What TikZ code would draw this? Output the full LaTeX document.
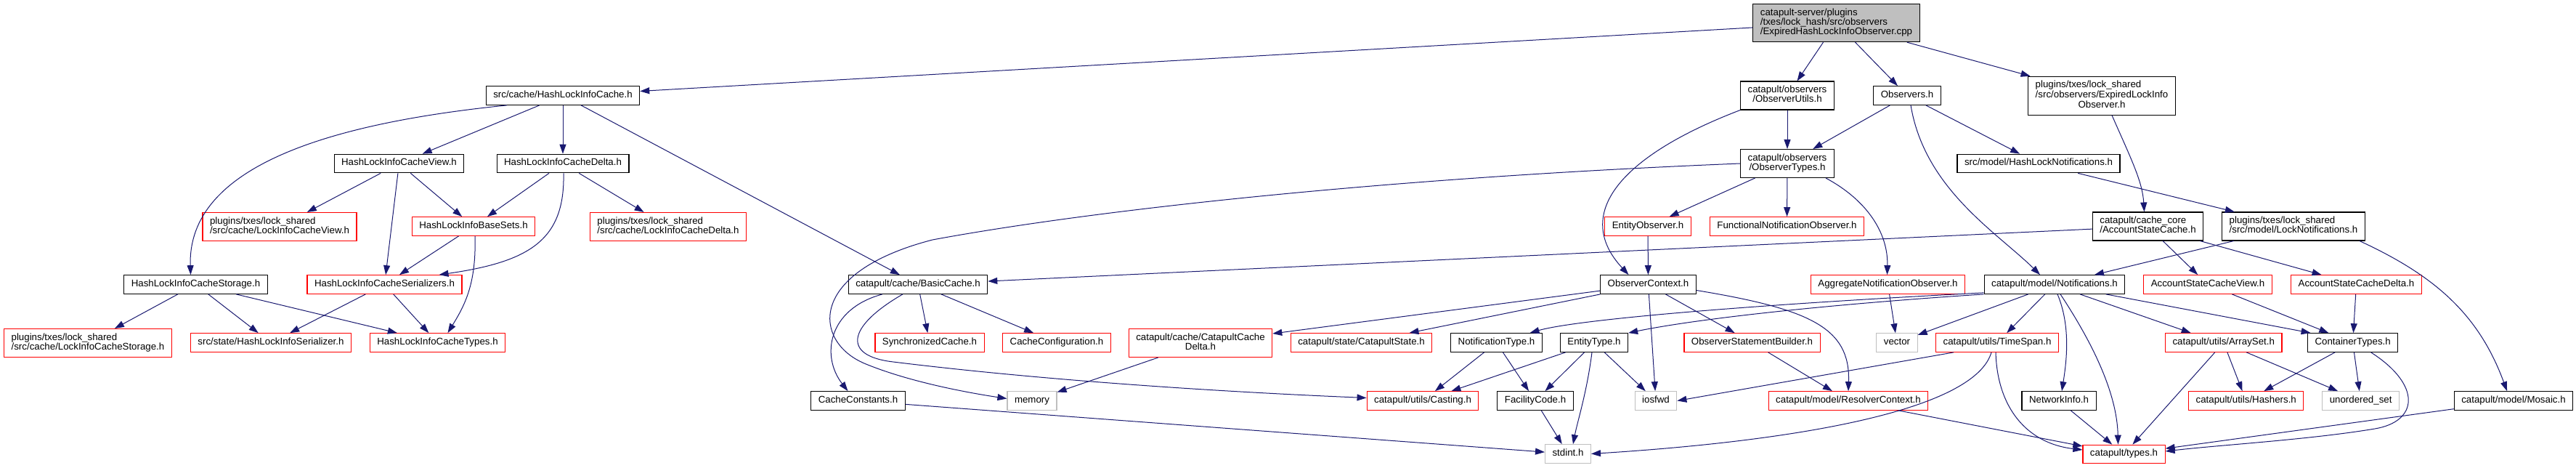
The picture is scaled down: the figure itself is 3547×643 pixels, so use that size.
\documentclass[tikz,border=0pt]{standalone}
\usepackage{fontspec}
\setmainfont{Liberation Sans}
\usetikzlibrary{arrows.meta}
\definecolor{edgeblue}{HTML}{191970}
\definecolor{extgray}{HTML}{BFBFBF}
\begin{document}
\begin{tikzpicture}[x=1pt,y=-1pt,font=\fontsize{13.3}{13.3}\selectfont]
  \tikzset{file node/.style={draw=black, line width=1.1pt, fill=white, align=left, inner xsep=10pt, inner ysep=6pt, minimum height=25pt, execute at begin node=\strut},
           red node/.style={file node, draw=red},
           ext node/.style={file node, draw=extgray},
           main node/.style={file node, fill=extgray},
           dep edge/.style={draw=edgeblue, line width=1pt, -{Triangle[length=13pt,width=9pt]}}}
  \useasboundingbox (0,0) rectangle (3547,643);
  % row 0 and 1
  \node[main node] (main) at (2528.5,31.5) {catapult-server/plugins\\/txes/lock\_hash/src/observers\\/ExpiredHashLockInfoObserver.cpp};
  \node[file node] (hlic) at (775,131.5) {src/cache/HashLockInfoCache.h};
  \node[file node, align=center] (obsutils) at (2461,131.5) {catapult/observers\\/ObserverUtils.h};
  \node[file node] (observers) at (2626,131.5) {Observers.h};
  \node[file node] (elio) at (2894,131.7) {\begin{tabular}{@{}l@{}}plugins/txes/lock\_shared\\/src/observers/ExpiredLockInfo\\\multicolumn{1}{@{}c@{}}{Observer.h}\end{tabular}};
  % row 2
  \node[file node] (hlicview) at (549.5,225) {HashLockInfoCacheView.h};
  \node[file node] (hlicdelta) at (775,225) {HashLockInfoCacheDelta.h};
  \node[file node, align=center] (obstypes) at (2461,225) {catapult/observers\\/ObserverTypes.h};
  \node[file node] (hashnotif) at (2807,225) {src/model/HashLockNotifications.h};
  % row 3
  \node[red node] (lockview) at (385,312) {plugins/txes/lock\_shared\\/src/cache/LockInfoCacheView.h};
  \node[red node] (basesets) at (652,311.5) {HashLockInfoBaseSets.h};
  \node[red node] (lockdelta) at (920,312) {plugins/txes/lock\_shared\\/src/cache/LockInfoCacheDelta.h};
  \node[red node] (entityobs) at (2269,311.5) {EntityObserver.h};
  \node[red node] (funcobs) at (2460.5,311.5) {FunctionalNotificationObserver.h};
  \node[file node] (asc) at (2957.5,311.5) {catapult/cache\_core\\/AccountStateCache.h};
  \node[file node] (locknotif) at (3158,311.5) {plugins/txes/lock\_shared\\/src/model/LockNotifications.h};
  % row 4
  \node[file node] (hlicstorage) at (269.5,391.5) {HashLockInfoCacheStorage.h};
  \node[red node] (hlicser) at (529.5,391.5) {HashLockInfoCacheSerializers.h};
  \node[file node] (basic) at (1264,391.5) {catapult/cache/BasicCache.h};
  \node[file node] (obsctx) at (2269.5,391.5) {ObserverContext.h};
  \node[red node] (aggobs) at (2599.5,391.5) {AggregateNotificationObserver.h};
  \node[file node] (notif) at (2829,391.5) {catapult/model/Notifications.h};
  \node[red node] (ascview) at (3040,391.5) {AccountStateCacheView.h};
  \node[red node] (ascdelta) at (3244.5,391.5) {AccountStateCacheDelta.h};
  % row 5
  \node[red node] (lockstorage) at (121,472) {plugins/txes/lock\_shared\\/src/cache/LockInfoCacheStorage.h};
  \node[red node] (hliser) at (373,471.5) {src/state/HashLockInfoSerializer.h};
  \node[red node] (hlictypes) at (602.5,471.5) {HashLockInfoCacheTypes.h};
  \node[red node] (synccache) at (1280,471.5) {SynchronizedCache.h};
  \node[red node] (cacheconf) at (1455,471.5) {CacheConfiguration.h};
  \node[red node, align=center] (ccdelta) at (1653,472) {catapult/cache/CatapultCache\\Delta.h};
  \node[red node] (cstate) at (1874.5,471.5) {catapult/state/CatapultState.h};
  \node[file node] (ntype) at (2060.5,471.5) {NotificationType.h};
  \node[file node] (etype) at (2195,471.5) {EntityType.h};
  \node[red node] (osb) at (2412.5,471.5) {ObserverStatementBuilder.h};
  \node[ext node] (vector) at (2612,471.5) {vector};
  \node[red node] (timespan) at (2750,471.5) {catapult/utils/TimeSpan.h};
  \node[red node] (arrayset) at (3061.7,471.5) {catapult/utils/ArraySet.h};
  \node[file node] (ctypes) at (3239.6,471.5) {ContainerTypes.h};
  % row 6 and 7
  \node[file node] (cconst) at (1181.5,551.5) {CacheConstants.h};
  \node[ext node] (memory) at (1421,551.5) {memory};
  \node[red node] (casting) at (1959,551.5) {catapult/utils/Casting.h};
  \node[file node] (facility) at (2114,551.5) {FacilityCode.h};
  \node[ext node] (iosfwd) at (2280,551.5) {iosfwd};
  \node[red node] (resolver) at (2545,551.5) {catapult/model/ResolverContext.h};
  \node[file node] (netinfo) at (2835,551.5) {NetworkInfo.h};
  \node[red node] (hashers) at (3092.7,551.5) {catapult/utils/Hashers.h};
  \node[ext node] (uset) at (3250.6,551.5) {unordered\_set};
  \node[file node] (mosaic) at (3461,551.5) {catapult/model/Mosaic.h};
  \node[ext node] (stdint) at (2159,624.5) {stdint.h};
  \node[red node] (types) at (2924.5,625) {catapult/types.h};
  % includes
  \draw[dep edge] (main) -- (hlic);
  \draw[dep edge] (main) -- (obsutils);
  \draw[dep edge] (main) -- (observers);
  \draw[dep edge] (main) -- (elio);
  \draw[dep edge] ([xshift=-77pt]hlic.south) .. controls (450,170) and (258,230) .. ([xshift=-7pt]hlicstorage.north);
  \draw[dep edge] (hlic) -- (hlicview);
  \draw[dep edge] (hlic) -- (hlicdelta);
  \draw[dep edge] (hlic) -- (basic);
  \draw[dep edge] (hlicview) -- (lockview);
  \draw[dep edge] (hlicview) -- (basesets);
  \draw[dep edge] (hlicview) -- (hlicser);
  \draw[dep edge] (hlicdelta) -- (basesets);
  \draw[dep edge] (hlicdelta) -- (lockdelta);
  \draw[dep edge] ([xshift=1pt]hlicdelta.south) .. controls (778,330) and (730,360) .. ([xshift=75pt]hlicser.north);
  \draw[dep edge] (basesets) -- (hlicser);
  \draw[dep edge] ([xshift=2pt]basesets.south) .. controls (656,390) and (640,420) .. ([xshift=14pt]hlictypes.north);
  \draw[dep edge] (hlicser) -- (hliser);
  \draw[dep edge] (hlicser) -- (hlictypes);
  \draw[dep edge] (hlicstorage) -- (lockstorage);
  \draw[dep edge] (hlicstorage) -- (hliser);
  \draw[dep edge] (hlicstorage) -- (hlictypes);
  \draw[dep edge] (basic) -- (synccache);
  \draw[dep edge] (basic) -- (cacheconf);
  \draw[dep edge] ([xshift=-49pt]basic.south) .. controls (1140,425) and (1130,490) .. ([xshift=-14pt]cconst.north);
  \draw[dep edge] ([xshift=-21pt]basic.south) .. controls (1165,450) and (1160,490) .. (1230,498) .. controls (1450,525) and (1700,540) .. ([yshift=4pt]casting.west);
  \draw[dep edge] (obstypes.west) .. controls (1900,245) and (1500,290) .. (1284,330) .. controls (1110,375) and (1120,470) .. (1190,500) .. controls (1250,525) and (1330,540) .. ([yshift=3pt]memory.west);
  \draw[dep edge] (ccdelta) -- (memory);
  \draw[dep edge] (cconst) -- (stdint);
  \draw[dep edge] (asc) -- (basic);
  \draw[dep edge] (obsutils) -- (obstypes);
  \draw[dep edge] (obsutils.south west) .. controls (2230,215) and (2165,295) .. ([xshift=-27pt]obsctx.north);
  \draw[dep edge] (observers) -- (obstypes);
  \draw[dep edge] (observers) -- (hashnotif);
  \draw[dep edge] ([xshift=5pt]observers.south) .. controls (2650,260) and (2750,320) .. ([xshift=-20pt]notif.north);
  \draw[dep edge] ([xshift=14pt]elio.south) .. controls (2935,220) and (2950,250) .. ([xshift=-5pt]asc.north);
  \draw[dep edge] (hashnotif) -- (locknotif);
  \draw[dep edge] (obstypes) -- (entityobs);
  \draw[dep edge] (obstypes) -- (funcobs);
  \draw[dep edge] ([xshift=53pt]obstypes.south) .. controls (2570,275) and (2600,320) .. ([xshift=-1pt]aggobs.north);
  \draw[dep edge] (entityobs) -- (obsctx);
  \draw[dep edge] (aggobs) -- (vector);
  \draw[dep edge] (obsctx) -- (ccdelta);
  \draw[dep edge] (obsctx) -- (cstate);
  \draw[dep edge] (obsctx) -- (iosfwd);
  \draw[dep edge] (obsctx) -- (osb);
  \draw[dep edge] ([yshift=-8pt]obsctx.east) .. controls (2490,425) and (2548,450) .. (resolver.north);
  \draw[dep edge] (osb) -- (resolver);
  \draw[dep edge] ([yshift=2pt]notif.south west) .. controls (2400,420) and (2170,440) .. ([xshift=46pt]ntype.north);
  \draw[dep edge] (notif.south west) .. controls (2500,420) and (2330,440) .. (etype.north east);
  \draw[dep edge] (notif) -- (vector);
  \draw[dep edge] (notif) -- (timespan);
  \draw[dep edge] ([xshift=4pt]notif.south) .. controls (2852,450) and (2845,500) .. ([xshift=4pt]netinfo.north);
  \draw[dep edge] ([xshift=8pt]notif.south) .. controls (2880,470) and (2915,540) .. ([xshift=-8pt]types.north);
  \draw[dep edge] ([xshift=35pt]notif.south) -- ([xshift=-45pt]arrayset.north);
  \draw[dep edge] (notif) -- ([xshift=-58pt]ctypes.north);
  \draw[dep edge] ([xshift=-60pt]timespan.south) -- (iosfwd.east);
  \draw[dep edge] ([xshift=-8pt]timespan.south) .. controls (2720,560) and (2500,605) .. (stdint.east);
  \draw[dep edge] ([xshift=-2pt]timespan.south) .. controls (2750,560) and (2790,610) .. ([yshift=6pt]types.west);
  \draw[dep edge] (resolver) -- (types);
  \draw[dep edge] (netinfo) -- (types);
  \draw[dep edge] (arrayset) -- (types);
  \draw[dep edge] (arrayset) -- (hashers);
  \draw[dep edge] (arrayset) -- (uset);
  \draw[dep edge] (ctypes) -- (hashers);
  \draw[dep edge] (ctypes) -- (uset);
  \draw[dep edge] ([xshift=25pt]ctypes.south) .. controls (3335,530) and (3330,580) .. (3270,590) .. controls (3180,605) and (3060,612) .. ([yshift=4pt]types.east);
  \draw[dep edge] (mosaic) -- (types);
  \draw[dep edge] (asc) -- (ascview);
  \draw[dep edge] (asc) -- (ascdelta);
  \draw[dep edge] (ascview) -- (ctypes);
  \draw[dep edge] (ascdelta) -- (ctypes);
  \draw[dep edge] (locknotif) -- (notif);
  \draw[dep edge] ([xshift=-8pt]locknotif.south east) .. controls (3352,379) and (3413,432) .. ([xshift=-9pt]mosaic.north);
  \draw[dep edge] (ntype) -- (casting);
  \draw[dep edge] (ntype) -- (facility);
  \draw[dep edge] (etype) -- (casting);
  \draw[dep edge] (etype) -- (facility);
  \draw[dep edge] ([xshift=-3pt]etype.south) .. controls (2185,540) and (2172,580) .. ([xshift=7pt]stdint.north);
  \draw[dep edge] (etype) -- (iosfwd);
  \draw[dep edge] (facility) -- (stdint);
\end{tikzpicture}
\end{document}
